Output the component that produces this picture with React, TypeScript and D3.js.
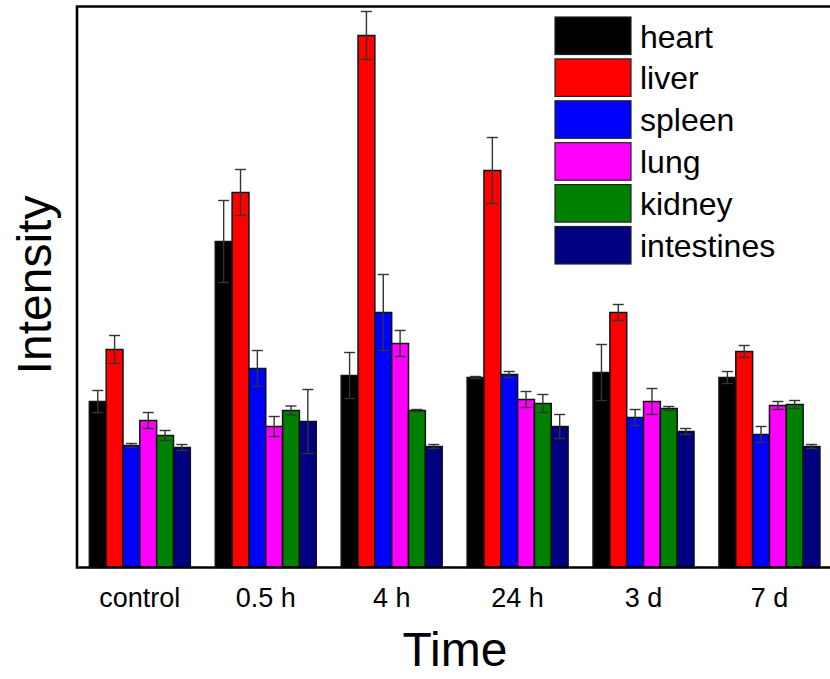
import React from "react";
import * as d3 from "d3";

// categories
const timePoints = ["control", "0.5 h", "4 h", "24 h", "3 d", "7 d"];
const organs = ["heart", "liver", "spleen", "lung", "kidney", "intestines"];
const organColours = ["#000000", "#ff0000", "#0000ff", "#ff00ff", "#008000", "#000080"];

// mean intensity (a.u.), one value per time point
const heart = [166, 326, 192, 190, 195, 190];
const liver = [218, 375, 532, 397, 255, 216];
const spleen = [122, 199, 255, 193, 150, 133];
const lung = [147, 141, 224, 168, 166, 162];
const kidney = [132, 157, 157, 164, 159, 163];
const intestines = [120, 146, 121, 141, 136, 121];

// standard deviation
const heartErr = [11, 41, 23, 1, 28, 6];
const liverErr = [14, 23, 24, 33, 8, 6];
const spleenErr = [2, 18, 38, 3, 8, 8];
const lungErr = [8, 10, 13, 8, 13, 4];
const kidneyErr = [5, 4.5, 1, 9, 2, 4];
const intestinesErr = [3, 32, 2, 12, 3, 2];

const means = [heart, liver, spleen, lung, kidney, intestines];
const errs = [heartErr, liverErr, spleenErr, lungErr, kidneyErr, intestinesErr];

const W = 830,
  H = 679;
const plot = { left: 77, top: 6.5, right: 832.3, bottom: 567.5 };
const font = "'Liberation Sans', Arial, sans-serif";

const App = () => {
  const x0 = d3
    .scaleBand()
    .domain(timePoints)
    .range([plot.left, plot.right])
    .paddingInner(0.198)
    .paddingOuter(0.098);
  const x1 = d3.scaleBand().domain(organs).range([0, x0.bandwidth()]);
  const y = d3.scaleLinear().domain([0, 561]).range([plot.bottom, plot.top]);

  const bars = [];
  timePoints.forEach((t, i) => {
    organs.forEach((o, j) => {
      bars.push({ t, o, j, v: means[j][i], e: errs[j][i] });
    });
  });

  const legendRow = 41.9;

  return (
    <svg
      width={W}
      height={H}
      style={{ position: "absolute", left: 0, top: 0, background: "#fff" }}
      fontFamily={font}
    >
      {/* bars */}
      {bars.map((b, k) => {
        const bx = x0(b.t) + x1(b.o);
        return (
          <rect
            key={"b" + k}
            x={bx}
            y={y(b.v)}
            width={x1.bandwidth()}
            height={y(0) - y(b.v)}
            fill={organColours[b.j]}
            stroke="#111"
            strokeWidth={1.5}
          />
        );
      })}
      {/* error bars */}
      {bars.map((b, k) => {
        const cx = x0(b.t) + x1(b.o) + x1.bandwidth() / 2;
        const hi = y(b.v + b.e);
        const lo = y(b.v - b.e);
        return (
          <g key={"e" + k} stroke="#333" strokeWidth={1.4}>
            <line x1={cx} x2={cx} y1={hi} y2={lo} />
            <line x1={cx - 5.5} x2={cx + 5.5} y1={hi} y2={hi} />
            <line x1={cx - 5.5} x2={cx + 5.5} y1={lo} y2={lo} />
          </g>
        );
      })}
      {/* frame */}
      <path
        d={`M${W + 5},${plot.top} H${plot.left} V${plot.bottom} H${W + 5}`}
        fill="none"
        stroke="#000"
        strokeWidth={2.6}
      />
      {/* x tick labels */}
      {timePoints.map((t) => (
        <text
          key={t}
          x={x0(t) + x0.bandwidth() / 2}
          y={607}
          textAnchor="middle"
          fontSize={27}
        >
          {t}
        </text>
      ))}
      <text x={455} y={666} textAnchor="middle" fontSize={48}>
        Time
      </text>
      <text
        transform={`translate(51,285) rotate(-90)`}
        textAnchor="middle"
        fontSize={48}
      >
        Intensity
      </text>
      {/* legend */}
      {organs.map((o, j) => (
        <g key={o} transform={`translate(555,${17 + j * legendRow})`}>
          <rect
            width={76}
            height={37.5}
            fill={organColours[j]}
            stroke="#222"
            strokeWidth={1.2}
          />
          <text x={85} y={30.5} fontSize={32}>
            {o}
          </text>
        </g>
      ))}
    </svg>
  );
};

export default App;
